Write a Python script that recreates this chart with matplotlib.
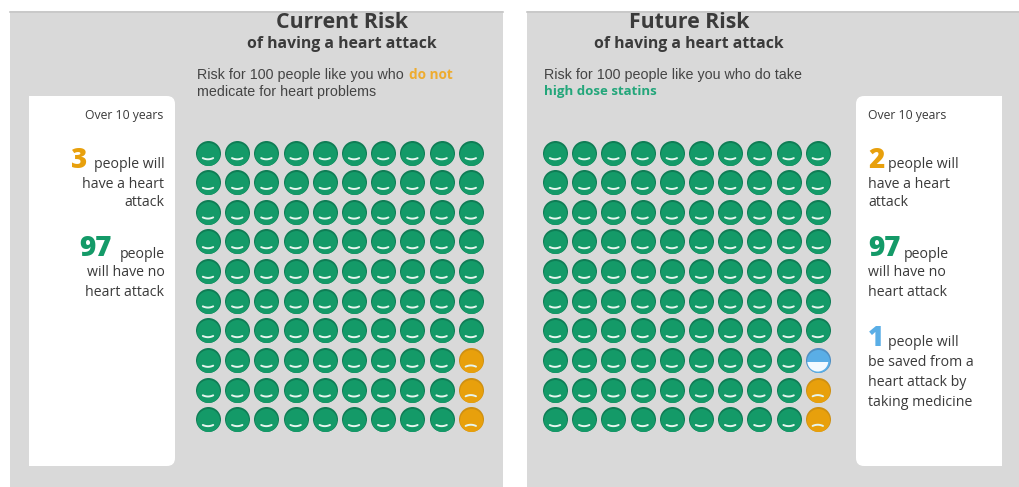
import numpy as np
from matplotlib import pyplot as plt
from matplotlib.patches import FancyBboxPatch, Rectangle, Circle

# people out of 100 for each panel, in the order they fill the grid
current_counts = {"safe": 97, "harmed": 3}
future_counts = {"safe": 97, "saved": 1, "harmed": 2}

GREEN = '#149a68'
ORANGE = '#e8a00c'
BLUE = '#5aaee6'
GRAY = '#d9d9d9'
TXT = '#3a3a3a'

fills = {"safe": GREEN, "harmed": ORANGE, "saved": BLUE}
edges = {"safe": '#0f7d55', "harmed": '#cf9012', "saved": '#4f8fc2'}

fig = plt.figure(figsize=(10.19, 4.87), dpi=100)
ax = fig.add_axes([0, 0, 1, 1])
ax.set_xlim(0, 1019)
ax.set_ylim(487, 0)
ax.axis('off')


def panel(x0, x1):
    ax.add_patch(Rectangle((x0, 11), x1 - x0, 476, fc=GRAY, ec='none', zorder=0))
    ax.plot([x0, x1], [11.5, 11.5], color='#c6c6c6', lw=1.2, zorder=1)


def white_box(x0, x1, square_side):
    ax.add_patch(FancyBboxPatch((x0 + 8, 104), x1 - x0 - 16, 354,
                                boxstyle='round,pad=8,rounding_size=8',
                                fc='white', ec='none', zorder=1))
    if square_side == 'left':
        ax.add_patch(Rectangle((x0, 96), 20, 370, fc='white', ec='none', zorder=1))
    else:
        ax.add_patch(Rectangle((x1 - 20, 96), 20, 370, fc='white', ec='none', zorder=1))


def people(counts, x_first):
    kinds = []
    for k, n in counts.items():
        kinds += [k] * n
    # grid is filled down the columns, last column holds the non safe people
    xs = x_first + 29.2 * (np.arange(100) // 10)
    ys = 152.5 + 29.65 * (np.arange(100) % 10)
    for x, y, k in zip(xs, ys, kinds):
        ax.scatter(x, y, s=324, color=edges[k], linewidths=0, zorder=2)
        ax.scatter(x, y + 1.0, s=274, color=fills[k], linewidths=0, zorder=3)
        if k == 'saved':
            # half full look, white lower part
            low = Rectangle((x - 12, y + 2), 24, 12, fc='#f2faff', ec='none', zorder=4)
            ax.add_patch(low)
            low.set_clip_path(Circle((x, y + 1.0), 10.5, transform=ax.transData))
            continue
        t = np.linspace(-1, 1, 15)
        sign = 1 if k == 'safe' else -1
        cy = y + 5.6 if k == 'safe' else y + 6.6
        ax.plot(x + 5.2 * t, cy + sign * 1.2 * (1 - t ** 2), color='#e6f5ee',
                lw=1.4, solid_capstyle='round', zorder=4)


panel(10, 503)
panel(527, 1019)
white_box(29, 175, 'left')
white_box(856, 1002, 'right')

people(current_counts, 208)
people(future_counts, 555)

# titles
title_font = dict(family='Open Sans', fontweight='bold', color='#3b3b3b', ha='center', va='center')
ax.text(342.5, 22.5, 'Current Risk', fontsize=15.3, **title_font)
ax.text(342, 43.5, 'of having a heart attack', fontsize=11.3, **title_font)
ax.text(689, 22.5, 'Future Risk', fontsize=15.3, **title_font)
ax.text(689, 43.5, 'of having a heart attack', fontsize=11.3, **title_font)

# subtitles
sub = dict(family='Liberation Sans', fontsize=10.3, color='#444444', va='center')
ax.text(197, 75, 'Risk for 100 people like you who', **sub)
ax.text(197, 92, 'medicate for heart problems', **sub)
ax.text(544, 75, 'Risk for 100 people like you who do take', **sub)
ax.text(409, 75, 'do not', family='Open Sans', fontweight='bold', fontsize=9.8, color='#eeac30', va='center')
ax.text(544, 92, 'high dose statins', family='Open Sans', fontweight='bold', fontsize=9.5, color='#23a67a', va='center')

# side boxes
body = dict(family='Open Sans', fontsize=10.2, color=TXT, va='center')
big = dict(family='Open Sans', fontweight='extra bold', fontsize=20, va='center')
top = {**body, 'fontsize': 8.8}

ax.text(163, 115, 'Over 10 years', ha='right', **top)
ax.text(87, 160, '3', ha='right', color=ORANGE, **big)
ax.text(164.5, 164, 'people will', ha='right', **body)
ax.text(164.5, 184, 'have a heart', ha='right', **body)
ax.text(164.5, 203, 'attack', ha='right', **body)
ax.text(112, 249, '97', ha='right', color=GREEN, **big)
ax.text(164.5, 254, 'people', ha='right', **body)
ax.text(164.5, 273, 'will have no', ha='right', **body)
ax.text(164.5, 293, 'heart attack', ha='right', **body)

ax.text(868, 115, 'Over 10 years', ha='left', **top)
ax.text(868, 160, '2', ha='left', color=ORANGE, **big)
ax.text(888, 164, 'people will', ha='left', **body)
ax.text(868, 184, 'have a heart', ha='left', **body)
ax.text(868, 203, 'attack', ha='left', **body)
ax.text(868, 249, '97', ha='left', color=GREEN, **big)
ax.text(904, 254, 'people', ha='left', **body)
ax.text(868, 273, 'will have no', ha='left', **body)
ax.text(868, 293, 'heart attack', ha='left', **body)
ax.text(868, 338, '1', ha='left', color=BLUE, **big)
ax.text(888, 343, 'people will', ha='left', **body)
ax.text(868, 363, 'be saved from a', ha='left', **body)
ax.text(868, 382, 'heart attack by', ha='left', **body)
ax.text(868, 402, 'taking medicine', ha='left', **body)

plt.savefig('out.png', dpi=100)
